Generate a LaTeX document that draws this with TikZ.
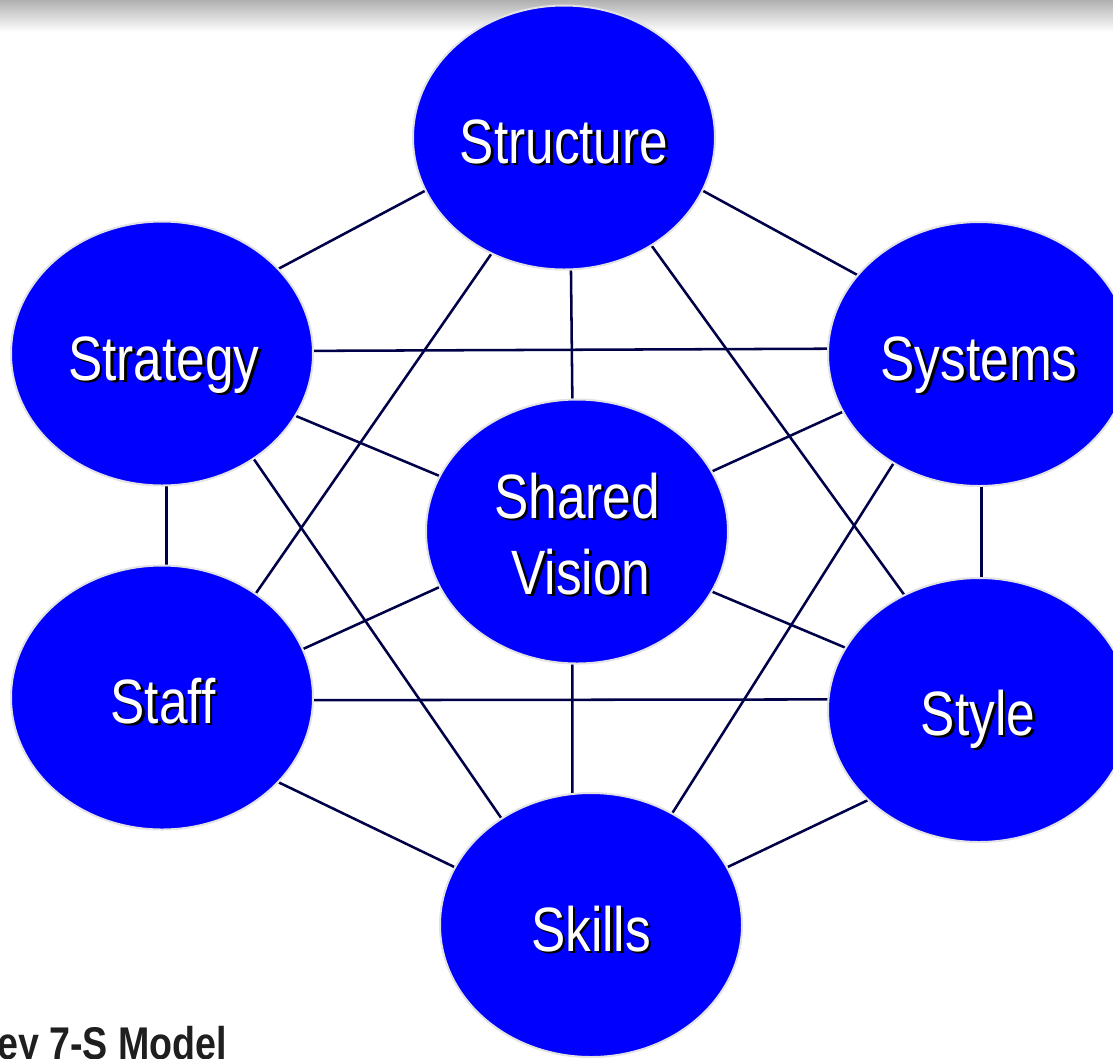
\documentclass[tikz,border=0pt]{standalone}
\usepackage{fontspec}
\setmainfont{Liberation Sans}[FakeStretch=0.82]
\usetikzlibrary{shapes.geometric}
\pgfdeclarelayer{bg}
\pgfsetlayers{bg,main}
\definecolor{sblue}{RGB}{0,0,255}
\definecolor{sline}{RGB}{0,0,72}
\definecolor{sedge}{RGB}{226,226,228}
\definecolor{sgray}{RGB}{176,176,176}
\newcommand\shd[1]{\makebox[0pt][l]{\kern2pt\raisebox{-2pt}{\color{black}#1}}{\color{white}#1}}
\begin{document}
\begin{tikzpicture}[x=0.75pt,y=-0.75pt,
  es/.style={ellipse, fill=sblue, draw=sedge, line width=1.5pt,
    minimum width=226.5pt, minimum height=198pt, inner sep=0pt},
  lbl/.style={anchor=base, inner sep=0pt, font=\fontsize{47}{56}\selectfont},
  link/.style={draw=sline, line width=1.9pt}]
\path[use as bounding box] (0,0) rectangle (1113,1058);
\clip (0,0) rectangle (1113,1058);
\begin{pgfonlayer}{bg}
\fill[white] (0,0) rectangle (1113,1058);
\shade[top color=sgray, bottom color=white] (0,0) rectangle (1113,32);
\end{pgfonlayer}
% ellipses
\node[es] (St) at (564,137.5) {};
\node[es] (Sg) at (162,353.5) {};
\node[es] (Sy) at (979,354) {};
\node[es] (Sh) at (577,531.5) {};
\node[es] (Sf) at (162,697.5) {};
\node[es] (Sl) at (979,710) {};
\node[es] (Sk) at (591,925) {};
% labels
\node[lbl] (tSt) at (564,163) {\shd{Structure}};
\node[lbl] (tSg) at (164,380) {\shd{Strategy}};
\node[lbl] (tSy) at (979,380) {\shd{Systems}};
\node[lbl] (tSh1) at (577,518) {\shd{Shared}};
\node[lbl] (tSh2) at (581,594) {\shd{Vision}};
\node[lbl] (tSf) at (163,723) {\shd{Staff}};
\node[lbl] (tSl) at (978,735) {\shd{Style}};
\node[lbl] (tSk) at (591,951) {\shd{Skills}};
% caption
\node[anchor=base west, inner sep=0pt, font=\bfseries\fontsize{34.4}{40}\selectfont, text=black!88] (cap) at (-3,1059) {ey 7-S Model};
% connectors
\begin{pgfonlayer}{bg}
\draw[link] (St.201.9) -- (Sg.36.9);
\draw[link] (St.-21.2) -- (Sy.147.5);
\draw[link] (St.-87) -- (Sh.92.8);
\draw[link] (St.238.5) -- (Sf.48.3);
\draw[link] (St.-51.9) -- (Sl.123.7);
\draw[link] (Sg.1.3) -- (Sy.178.5);
\draw[link] (Sg.-25.4) -- (Sh.158.4);
\draw[link] (Sg.-88.7) -- (Sf.88.7);
\draw[link] (Sg.-49.5) -- (Sk.130.5);
\draw[link] (Sy.203.5) -- (Sh.24.6);
\draw[link] (Sy.-89.6) -- (Sl.89.6);
\draw[link] (Sy.232.9) -- (Sk.54);
\draw[link] (Sh.202.3) -- (Sf.19.5);
\draw[link] (Sh.-24.6) -- (Sl.155.1);
\draw[link] (Sh.-92.8) -- (Sk.98.2);
\draw[link] (Sf.-1.3) -- (Sl.176.6);
\draw[link] (Sf.-36.9) -- (Sk.157.1);
\draw[link] (Sl.219.3) -- (Sk.23.4);
\end{pgfonlayer}
\end{tikzpicture}
\end{document}
